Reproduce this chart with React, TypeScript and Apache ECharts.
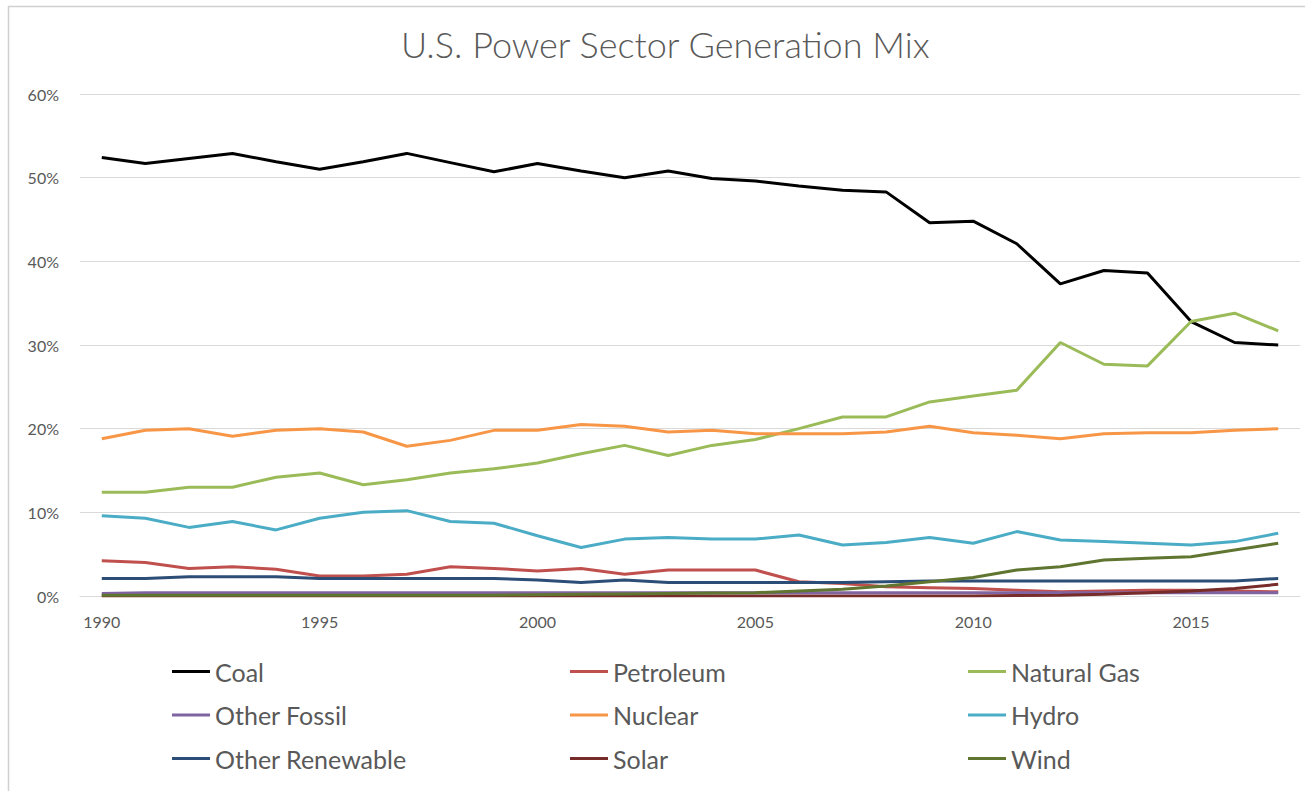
import React, { useEffect, useRef } from "react";
import * as echarts from "echarts";

const years = Array.from({ length: 28 }, (_, i) => String(1990 + i));

const coal = [52.4, 51.7, 52.3, 52.9, 51.9, 51.0, 51.9, 52.9, 51.8, 50.7, 51.7, 50.8, 50.0, 50.8, 49.9, 49.6, 49.0, 48.5, 48.3, 44.6, 44.8, 42.1, 37.3, 38.9, 38.6, 32.8, 30.3, 30.0];
const petroleum = [4.2, 4.0, 3.3, 3.5, 3.2, 2.4, 2.4, 2.6, 3.5, 3.3, 3.0, 3.3, 2.6, 3.1, 3.1, 3.1, 1.7, 1.5, 1.1, 1.0, 0.9, 0.7, 0.5, 0.6, 0.7, 0.7, 0.6, 0.5];
const naturalGas = [12.4, 12.4, 13.0, 13.0, 14.2, 14.7, 13.3, 13.9, 14.7, 15.2, 15.9, 17.0, 18.0, 16.8, 18.0, 18.7, 20.0, 21.4, 21.4, 23.2, 23.9, 24.6, 30.3, 27.7, 27.5, 32.8, 33.8, 31.7];
const otherFossil = [0.3, 0.4, 0.4, 0.4, 0.4, 0.4, 0.4, 0.4, 0.4, 0.4, 0.4, 0.4, 0.4, 0.4, 0.4, 0.4, 0.4, 0.4, 0.4, 0.4, 0.4, 0.4, 0.4, 0.4, 0.4, 0.4, 0.4, 0.4];
const nuclear = [18.8, 19.8, 20.0, 19.1, 19.8, 20.0, 19.6, 17.9, 18.6, 19.8, 19.8, 20.5, 20.3, 19.6, 19.8, 19.4, 19.4, 19.4, 19.6, 20.3, 19.5, 19.2, 18.8, 19.4, 19.5, 19.5, 19.8, 20.0];
const hydro = [9.6, 9.3, 8.2, 8.9, 7.9, 9.3, 10.0, 10.2, 8.9, 8.7, 7.2, 5.8, 6.8, 7.0, 6.8, 6.8, 7.3, 6.1, 6.4, 7.0, 6.3, 7.7, 6.7, 6.5, 6.3, 6.1, 6.5, 7.5];
const otherRenewable = [2.1, 2.1, 2.3, 2.3, 2.3, 2.1, 2.1, 2.1, 2.1, 2.1, 1.9, 1.6, 1.9, 1.6, 1.6, 1.6, 1.6, 1.6, 1.7, 1.8, 1.8, 1.8, 1.8, 1.8, 1.8, 1.8, 1.8, 2.1];
const solar = [0.0, 0.0, 0.0, 0.0, 0.0, 0.0, 0.0, 0.0, 0.0, 0.0, 0.0, 0.0, 0.0, 0.0, 0.0, 0.0, 0.0, 0.0, 0.0, 0.0, 0.0, 0.05, 0.1, 0.2, 0.4, 0.6, 0.9, 1.4];
const wind = [0.1, 0.1, 0.1, 0.1, 0.1, 0.1, 0.1, 0.1, 0.1, 0.1, 0.15, 0.2, 0.25, 0.3, 0.35, 0.4, 0.6, 0.8, 1.2, 1.7, 2.2, 3.1, 3.5, 4.3, 4.5, 4.7, 5.5, 6.3];

const seriesNames = ["Coal", "Petroleum", "Natural Gas", "Other Fossil", "Nuclear", "Hydro", "Other Renewable", "Solar", "Wind"];
const seriesValues = [coal, petroleum, naturalGas, otherFossil, nuclear, hydro, otherRenewable, solar, wind];
const seriesColors = ["#000000", "#c0504d", "#9bbb59", "#8064a2", "#f79646", "#4bacc6", "#2c4d75", "#772c2a", "#5f7530"];

const legendColumns = [
  ["Coal", "Other Fossil", "Other Renewable"],
  ["Petroleum", "Nuclear", "Solar"],
  ["Natural Gas", "Hydro", "Wind"],
];
const legendLefts = [172, 570, 968];

const FONT = "Lato";

export default function App() {
  const ref = useRef<HTMLDivElement>(null);
  useEffect(() => {
    if (!ref.current) return;
    const chart = echarts.init(ref.current, null, { renderer: "svg" });
    chart.setOption({
      animation: false,
      backgroundColor: "#ffffff",
      textStyle: { fontFamily: FONT },
      title: {
        text: "U.S. Power Sector Generation Mix",
        left: 401,
        top: 24,
        padding: 0,
        textStyle: { fontFamily: FONT, fontSize: 36, fontWeight: 300, color: "#595959", lineHeight: 40 },
      },
      graphic: [
        {
          type: "rect",
          shape: { x: 8.5, y: 6.5, width: 1400, height: 900 },
          style: { fill: "none", stroke: "#d0d0d0", lineWidth: 1.5 },
          silent: true,
        },
      ],
      legend: legendColumns.map((col, i) => ({
        orient: "vertical",
        left: legendLefts[i],
        top: 659,
        padding: 0,
        itemGap: 18.5,
        itemWidth: 38,
        itemHeight: 3,
        icon: "rect",
        data: col,
        selectedMode: false,
        textStyle: { fontFamily: FONT, fontSize: 25, lineHeight: 25, color: "#595959", padding: [0, 0, 0, 0] },
      })),
      grid: { left: 80, right: 5, top: 94, bottom: 195, containLabel: false },
      xAxis: {
        type: "category",
        data: years,
        boundaryGap: true,
        axisLine: { show: true, lineStyle: { color: "#d9d9d9", width: 1 } },
        axisTick: { show: false },
        axisLabel: {
          interval: 4,
          fontFamily: FONT,
          fontSize: 16,
          color: "#595959",
          margin: 17,
        },
        splitLine: { show: false },
      },
      yAxis: {
        type: "value",
        min: 0,
        max: 60,
        interval: 10,
        axisLine: { show: false },
        axisTick: { show: false },
        axisLabel: {
          formatter: (v: number) => `${v}%`,
          fontFamily: FONT,
          fontSize: 16,
          color: "#595959",
          margin: 21,
        },
        splitLine: { lineStyle: { color: "#d9d9d9", width: 1 } },
      },
      series: seriesNames.map((name, i) => ({
        name,
        type: "line",
        data: seriesValues[i],
        symbol: "none",
        showSymbol: false,
        lineStyle: { color: seriesColors[i], width: 3 },
        itemStyle: { color: seriesColors[i] },
        z: 2,
      })),
    });
    return () => chart.dispose();
  }, []);
  return (
    <div
      ref={ref}
      style={{ position: "absolute", left: 0, top: 0, width: 1305, height: 791 }}
    />
  );
}
